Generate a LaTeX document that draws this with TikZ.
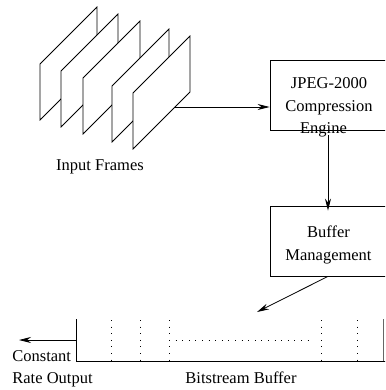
\documentclass[tikz,border=0pt]{standalone}
\usepackage{fontspec}
\setmainfont{Liberation Serif}
\usetikzlibrary{arrows.meta}
\begin{document}
\begin{tikzpicture}[x=1pt,y=-1pt,
  line width=0.8pt,
  box/.style={draw, minimum width=116pt, minimum height=70pt, inner sep=0pt},
  lbl/.style={font=\fontsize{16.5}{22.5}\selectfont, align=center, inner sep=0pt},
  lbll/.style={font=\fontsize{16.5}{22}\selectfont, align=left, inner sep=0pt},
  arr/.style={-{Stealth[length=12pt,width=6pt]}},
  framebox/.style={draw, fill=white, line join=miter},
  dots/.style={line width=1pt, dash pattern=on 1pt off 5.6pt}]
\useasboundingbox (0,0) rectangle (385,390);
\clip (0,0) rectangle (385,390);

% input frames
\foreach \L/\B in {40/120, 61/127, 83/134, 112/142, 133/149}
  \draw[framebox] (\L,\B) -- ++(0,-56) -- ++(57,-57) -- ++(0,56) -- cycle;
\node[lbl, anchor=base] (inlbl) at (100,170) {Input Frames};

% boxes
\node[box] (jpeg) at (328,95) {};
\node[lbl] (jpegtxt) at (329,107.5) {JPEG-2000\\Compression\\Engine\hspace*{11pt}};
\node[box] (buf) at (328,241) {};
\node[lbl] (buftxt) at (328.5,245) {Buffer\\Management};

% connectors
\coordinate (fo) at (175,107);
\draw[arr] (fo) -- (fo -| jpeg.west);
\draw[arr, shorten <=5pt, shorten >=-5pt] (jpeg.south) -- (buf.north);
\coordinate (bt) at (257,312);
\draw[arr] (buf.south) -- (bt);

% bitstream buffer
\coordinate (bl) at (76,319);
\coordinate (bb) at (76,361);
\coordinate (br) at (386,361);
\draw[line width=1pt] (bl) -- (bb) -- (br);
\draw[line width=0.6pt, black!60] (383,319) -- (383,361);
\foreach \x in {111,140,169,321,357}
  \draw[dots] (\x,320) -- (\x,361);
\draw[dots] (169,340) -- (314,340);
\coordinate (bo) at (76,340);
\coordinate (out) at (19,340);
\draw[arr] (bo) -- (out);

\node[lbll, anchor=west] (cro) at (12,369) {Constant\\Rate Output};
\node[lbl, anchor=base] (bslbl) at (241,383) {Bitstream Buffer};
\end{tikzpicture}
\end{document}
